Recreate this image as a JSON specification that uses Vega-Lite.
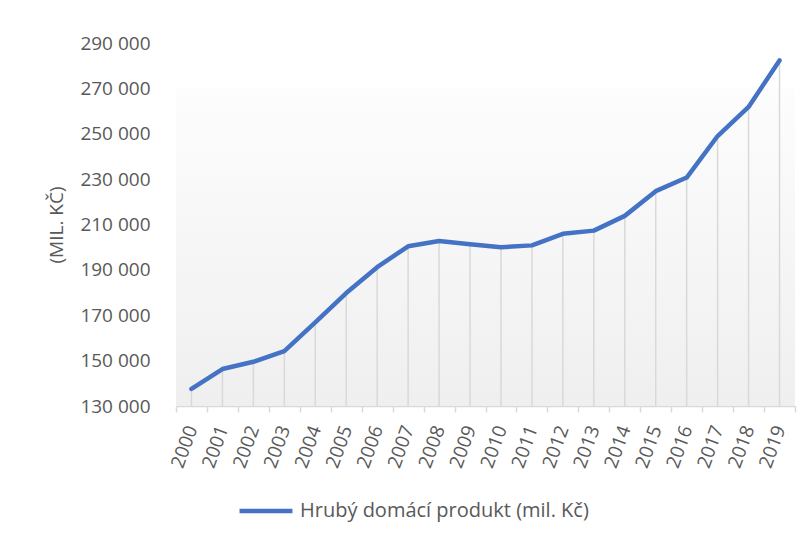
{
  "$schema": "https://vega.github.io/schema/vega-lite/v6.json",
  "autosize": "none",
  "width": 619,
  "height": 363,
  "padding": {"left": 176, "top": 43, "right": 15, "bottom": 136},
  "background": "white",
  "config": {
    "font": "Open Sans",
    "view": {"stroke": null},
    "locale": {"number": {"decimal": ",", "thousands": " ", "grouping": [3], "currency": ["", " Kč"]}}
  },
  "data": {
    "values": [
      {"rok": "2000", "hdp": 137500},
      {"rok": "2001", "hdp": 146300},
      {"rok": "2002", "hdp": 149500},
      {"rok": "2003", "hdp": 154200},
      {"rok": "2004", "hdp": 166900},
      {"rok": "2005", "hdp": 179800},
      {"rok": "2006", "hdp": 191200},
      {"rok": "2007", "hdp": 200400},
      {"rok": "2008", "hdp": 202700},
      {"rok": "2009", "hdp": 201300},
      {"rok": "2010", "hdp": 200000},
      {"rok": "2011", "hdp": 200800},
      {"rok": "2012", "hdp": 205900},
      {"rok": "2013", "hdp": 207300},
      {"rok": "2014", "hdp": 213800},
      {"rok": "2015", "hdp": 224700},
      {"rok": "2016", "hdp": 230700},
      {"rok": "2017", "hdp": 249000},
      {"rok": "2018", "hdp": 261800},
      {"rok": "2019", "hdp": 282300}
    ]
  },
  "layer": [
    {
      "mark": {
        "type": "rect",
        "color": {
          "gradient": "linear", "x1": 0, "y1": 0, "x2": 0, "y2": 1,
          "stops": [{"offset": 0, "color": "#fdfdfd"}, {"offset": 1, "color": "#efefef"}]
        }
      },
      "encoding": {
        "y": {"datum": 270000, "type": "quantitative"},
        "y2": {"datum": 130000}
      }
    },
    {
      "mark": {"type": "rule", "color": "#d9d9d9", "strokeWidth": 1.5},
      "encoding": {
        "x": {"field": "rok", "type": "ordinal"},
        "y": {"field": "hdp", "type": "quantitative"},
        "y2": {"datum": 130000}
      }
    },
    {
      "mark": {"type": "line", "strokeWidth": 4.5, "strokeCap": "round", "strokeJoin": "round"},
      "encoding": {
        "x": {
          "field": "rok", "type": "ordinal",
          "scale": {"type": "band", "paddingInner": 0, "paddingOuter": 0},
          "axis": {
            "title": null,
            "labelAngle": -70,
            "labelFontSize": 19,
            "labelColor": "#595959",
            "labelPadding": 14,
            "domainColor": "#d9d9d9",
            "domainWidth": 1.5,
            "tickColor": "#d9d9d9",
            "tickWidth": 1.5,
            "tickSize": 6,
            "tickBand": "extent",
            "grid": false
          }
        },
        "y": {
          "field": "hdp", "type": "quantitative",
          "scale": {"domain": [130000, 290000], "nice": false, "zero": false},
          "axis": {
            "title": "(MIL. KČ)",
            "titleFontSize": 19,
            "titleFontWeight": "normal",
            "titleColor": "#595959",
            "titlePadding": 13,
            "values": [130000, 150000, 170000, 190000, 210000, 230000, 250000, 270000, 290000],
            "format": ",d",
            "labelFontSize": 19,
            "labelColor": "#595959",
            "labelPadding": 26,
            "domain": false,
            "ticks": false,
            "grid": false
          }
        },
        "color": {
          "datum": "Hrubý domácí produkt (mil. Kč)",
          "scale": {"range": ["#4472C4"]},
          "legend": {
            "title": null,
            "orient": "none",
            "legendX": 61,
            "legendY": 439,
            "symbolType": "stroke",
            "symbolSize": 2800,
            "symbolStrokeWidth": 4.5,
            "labelFontSize": 20,
            "labelLimit": 0,
            "labelColor": "#595959",
            "labelOffset": 5,
            "padding": 0
          }
        }
      }
    }
  ]
}
